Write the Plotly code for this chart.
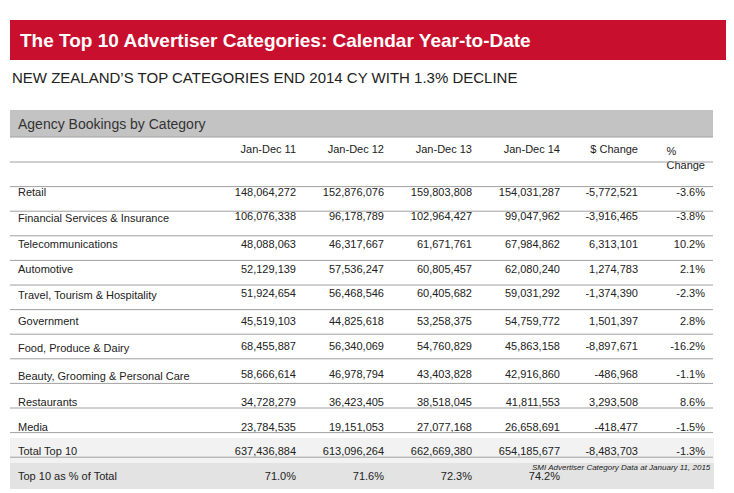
import plotly.graph_objects as go

W, H = 734, 493
OX, OY = -8, -8  # page body margin offset

columns = ['', 'Jan-Dec 11', 'Jan-Dec 12', 'Jan-Dec 13', 'Jan-Dec 14', '$ Change', '% Change']
categories = ['Retail', 'Financial Services & Insurance', 'Telecommunications', 'Automotive',
              'Travel, Tourism & Hospitality', 'Government', 'Food, Produce & Dairy',
              'Beauty, Grooming & Personal Care', 'Restaurants', 'Media',
              'Total Top 10', 'Top 10 as % of Total']
jan_dec_11 = ['148,064,272', '106,076,338', '48,088,063', '52,129,139', '51,924,654', '45,519,103',
              '68,455,887', '58,666,614', '34,728,279', '23,784,535', '637,436,884', '71.0%']
jan_dec_12 = ['152,876,076', '96,178,789', '46,317,667', '57,536,247', '56,468,546', '44,825,618',
              '56,340,069', '46,978,794', '36,423,405', '19,151,053', '613,096,264', '71.6%']
jan_dec_13 = ['159,803,808', '102,964,427', '61,671,761', '60,805,457', '60,405,682', '53,258,375',
              '54,760,829', '43,403,828', '38,518,045', '27,077,168', '662,669,380', '72.3%']
jan_dec_14 = ['154,031,287', '99,047,962', '67,984,862', '62,080,240', '59,031,292', '54,759,772',
              '45,863,158', '42,916,860', '41,811,553', '26,658,691', '654,185,677', '74.2%']
dollar_change = ['-5,772,521', '-3,916,465', '6,313,101', '1,274,783', '-1,374,390', '1,501,397',
                 '-8,897,671', '-486,968', '3,293,508', '-418,477', '-8,483,703', '']
pct_change = ['-3.6%', '-3.8%', '10.2%', '2.1%', '-2.3%', '2.8%',
              '-16.2%', '-1.1%', '8.6%', '-1.5%', '-1.3%', '']

n = len(categories)
row_fill = ['white'] * (n - 2) + ['#f2f2f2', '#e3e3e3']
fills = [row_fill] * len(columns)


def px(x):
    return (x + OX) / W


def py(y):
    return 1 - (y + OY) / H


FONT = 'Liberation Sans, Arial'
x0, x1 = px(10), px(713)
top_px, head_h, row_h = 137, 25, 24.6

fig = go.Figure(go.Table(
    domain=dict(x=[x0, x1], y=[0, py(top_px)]),
    columnwidth=[214, 80, 88, 88, 88, 78, 67],
    header=dict(values=columns, fill_color='white', line_color='white', height=head_h,
                align=['left'] + ['right'] * 6,
                font=dict(family=FONT, size=11, color='#222')),
    cells=dict(values=[categories, jan_dec_11, jan_dec_12, jan_dec_13, jan_dec_14, dollar_change, pct_change],
               fill_color=fills, line_color=fills, height=row_h,
               align=['left'] + ['right'] * 6,
               font=dict(family=FONT, size=11, color='#222')),
))

shapes = [
    dict(type='rect', xref='paper', yref='paper', x0=px(10), x1=1, y0=py(60), y1=py(20),
         fillcolor='#c8102e', line_width=0),
    dict(type='rect', xref='paper', yref='paper', x0=x0, x1=x1, y0=py(137), y1=py(110),
         fillcolor='#c3c3c4', line_width=0),
]
for i in range(n + 1):
    y = top_px + head_h + i * row_h
    shapes.append(dict(type='line', xref='paper', yref='paper', x0=x0, x1=x1,
                       y0=py(y), y1=py(y), line=dict(color='#a0a0a0', width=1)))
shapes.append(dict(type='line', xref='paper', yref='paper', x0=x0, x1=x1,
                   y0=py(top_px), y1=py(top_px), line=dict(color='#a0a0a0', width=1)))

annotations = [
    dict(text='<b>The Top 10 Advertiser Categories: Calendar Year-to-Date</b>', x=px(18), y=py(40),
         xanchor='left', yanchor='middle', showarrow=False,
         font=dict(family=FONT, size=19, color='white')),
    dict(text="NEW ZEALAND’S TOP CATEGORIES END 2014 CY WITH 1.3% DECLINE", x=px(10), y=py(77),
         xanchor='left', yanchor='middle', showarrow=False,
         font=dict(family=FONT, size=15, color='#222')),
    dict(text='Agency Bookings by Category', x=px(16), y=py(124),
         xanchor='left', yanchor='middle', showarrow=False,
         font=dict(family=FONT, size=14, color='#333')),
    dict(text='<i>SMI Advertiser Category Data at January 11, 2015</i>', x=x1, y=py(467),
         xanchor='right', yanchor='middle', showarrow=False,
         font=dict(family=FONT, size=8, color='#222')),
]

fig.update_layout(width=W, height=H, margin=dict(l=0, r=0, t=0, b=0),
                  paper_bgcolor='white', shapes=shapes, annotations=annotations)
fig.write_html("out.html")
